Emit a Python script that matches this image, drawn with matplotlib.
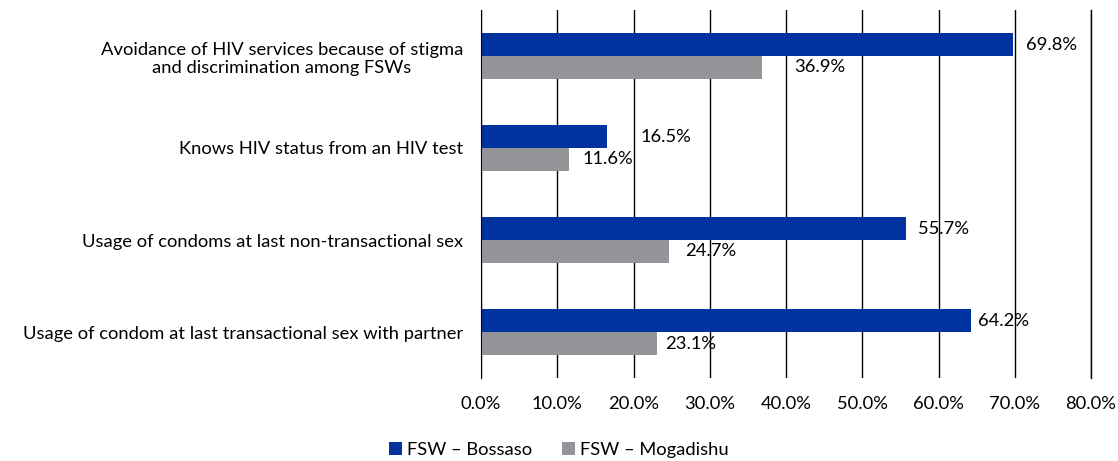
import matplotlib.pyplot as plt
import numpy as np

plt.rcParams['font.family'] = ['Lato', 'DejaVu Sans']

categories = [
    "Avoidance of HIV services because of stigma\nand discrimination among FSWs",
    "Knows HIV status from an HIV test",
    "Usage of condoms at last non-transactional sex",
    "Usage of condom at last transactional sex with partner",
]
bossaso = [69.8, 16.5, 55.7, 64.2]
mogadishu = [36.9, 11.6, 24.7, 23.1]
series_names = ["FSW \u2013 Bossaso", "FSW \u2013 Mogadishu"]
xticks = [0, 10, 20, 30, 40, 50, 60, 70, 80]

blue = "#0033A0"
gray = "#939598"

fig = plt.figure(figsize=(11.18, 4.61), dpi=100)
ax = fig.add_axes([481/1118, 1-378/461, (1091-481)/1118, (378-10)/461])

y = np.arange(len(categories))
h = 0.25
b1 = ax.barh(y - h/2, bossaso, height=h, color=blue, label=series_names[0], zorder=3)
b2 = ax.barh(y + h/2, mogadishu, height=h, color=gray, label=series_names[1], zorder=3)

# label offsets in pixels from bar end
off_b = [13, 34, 12, 7]
off_m = [32, 13, 16, 8]
fs = 13.2
for rect, v, o in zip(b1, bossaso, off_b):
    ax.annotate(f"{v:.1f}%", (v, rect.get_y() + rect.get_height()/2),
                xytext=(o * 0.72, 0), textcoords='offset points', va='center', ha='left', fontsize=fs)
for rect, v, o in zip(b2, mogadishu, off_m):
    ax.annotate(f"{v:.1f}%", (v, rect.get_y() + rect.get_height()/2),
                xytext=(o * 0.72, 0), textcoords='offset points', va='center', ha='left', fontsize=fs)

ax.set_xlim(0, 80)
ax.set_ylim(len(categories) - 0.5, -0.5)
ax.set_xticks(xticks)
ax.set_xticklabels([f"{t:.1f}%" for t in xticks], fontsize=fs)
ax.set_yticks(y)
ax.set_yticklabels(categories, fontsize=fs, multialignment='center')
ax.tick_params(axis='both', length=0)
ax.tick_params(axis='y', pad=13)
ax.tick_params(axis='x', pad=13)
ax.grid(axis='x', color='black', linewidth=1, zorder=0)
ax.axvline(80, color='black', linewidth=1, clip_on=False, zorder=0)
for s in ['top', 'right', 'bottom']:
    ax.spines[s].set_visible(False)
ax.spines['left'].set_color('black')
ax.spines['left'].set_zorder(4)

fig.legend(handles=[b1, b2], loc='center', bbox_to_anchor=(0.5, 1-450/461), ncol=2,
           frameon=False, fontsize=fs, handlelength=0.7, handleheight=0.7,
           handletextpad=0.3, columnspacing=1.6)

fig.savefig("out.png", dpi=100)
